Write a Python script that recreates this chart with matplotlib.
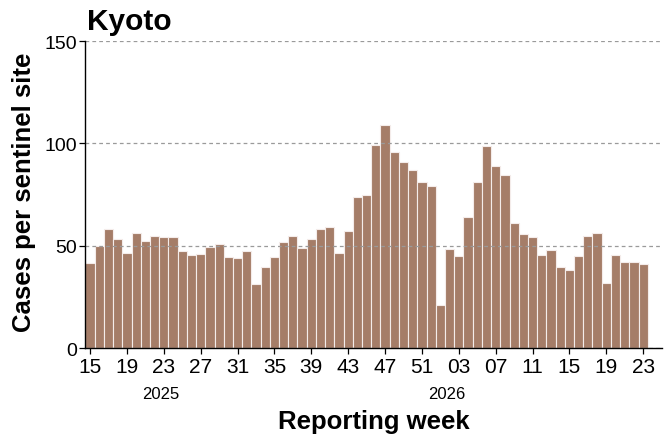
import matplotlib
matplotlib.use("Agg")
import matplotlib.pyplot as plt
import numpy as np

plt.rcParams['font.family'] = ['Liberation Sans', 'DejaVu Sans']

# weekly values, week 15 of 2025 to week 23 of 2026
weeks_2025 = list(range(15, 53))
weeks_2026 = list(range(1, 24))
cases_2025 = [41.7, 49.7, 58.0, 53.1, 46.4, 56.0, 52.3, 54.6, 54.2, 54.4,
              47.5, 45.6, 45.9, 49.2, 50.6, 44.3, 44.1, 47.5, 31.4, 39.7,
              44.3, 51.6, 54.9, 48.7, 53.4, 58.2, 59.0, 46.2, 57.0, 73.8,
              74.7, 99.0, 109.0, 95.9, 91.0, 86.8, 81.2, 79.1]
cases_2026 = [21.1, 48.2, 44.9, 63.9, 81.2, 98.7, 89.2, 84.5, 60.9, 55.7,
              54.4, 45.6, 47.8, 39.4, 38.2, 44.8, 54.9, 56.0, 32.0, 45.7,
              41.8, 41.8, 41.2]

weeks = weeks_2025 + weeks_2026
cases = cases_2025 + cases_2026
x = np.arange(len(weeks))

fig = plt.figure(figsize=(6.71, 4.39), dpi=100)
ax = fig.add_axes([0.1267, 0.205, 0.86, 0.699])

ax.bar(x, cases, width=1.0, color='#a57d68', edgecolor='#f4ecea', linewidth=0.8)

ax.set_xlim(-0.55, len(weeks) + 1.05)
ax.set_ylim(0, 150)
ax.set_yticks([0, 50, 100, 150])
ax.yaxis.grid(True, linestyle=(0, (3, 2.5)), color='#9a9a9a', linewidth=0.9)

tick_pos = x[::4]
ax.set_xticks(tick_pos)
ax.set_xticklabels(['%02d' % weeks[i] for i in tick_pos])
ax.tick_params(axis='x', labelsize=15, length=4, width=0.9, pad=2.5)
ax.tick_params(axis='y', labelsize=14, length=4, width=0.9, pad=2)

for s in ['top', 'right']:
    ax.spines[s].set_visible(False)
ax.spines['left'].set_linewidth(1.0)
ax.spines['bottom'].set_linewidth(1.0)

# year labels under the week ticks
ax.text(7.7, -0.163, '2025', transform=ax.get_xaxis_transform(),
        ha='center', va='baseline', fontsize=12)
ax.text(38.7, -0.163, '2026', transform=ax.get_xaxis_transform(),
        ha='center', va='baseline', fontsize=12)

ax.set_xlabel('Reporting week', fontsize=18.5, fontweight='bold', labelpad=24)
ax.set_ylabel('Cases per sentinel site', fontsize=18.5, fontweight='bold')
ax.yaxis.set_label_coords(-0.085, 0.51)
fig.text(0.13, 1 - 30 / 439, 'Kyoto', fontsize=21.5, fontweight='bold',
         ha='left', va='baseline')

fig.savefig('out.png', dpi=100)
